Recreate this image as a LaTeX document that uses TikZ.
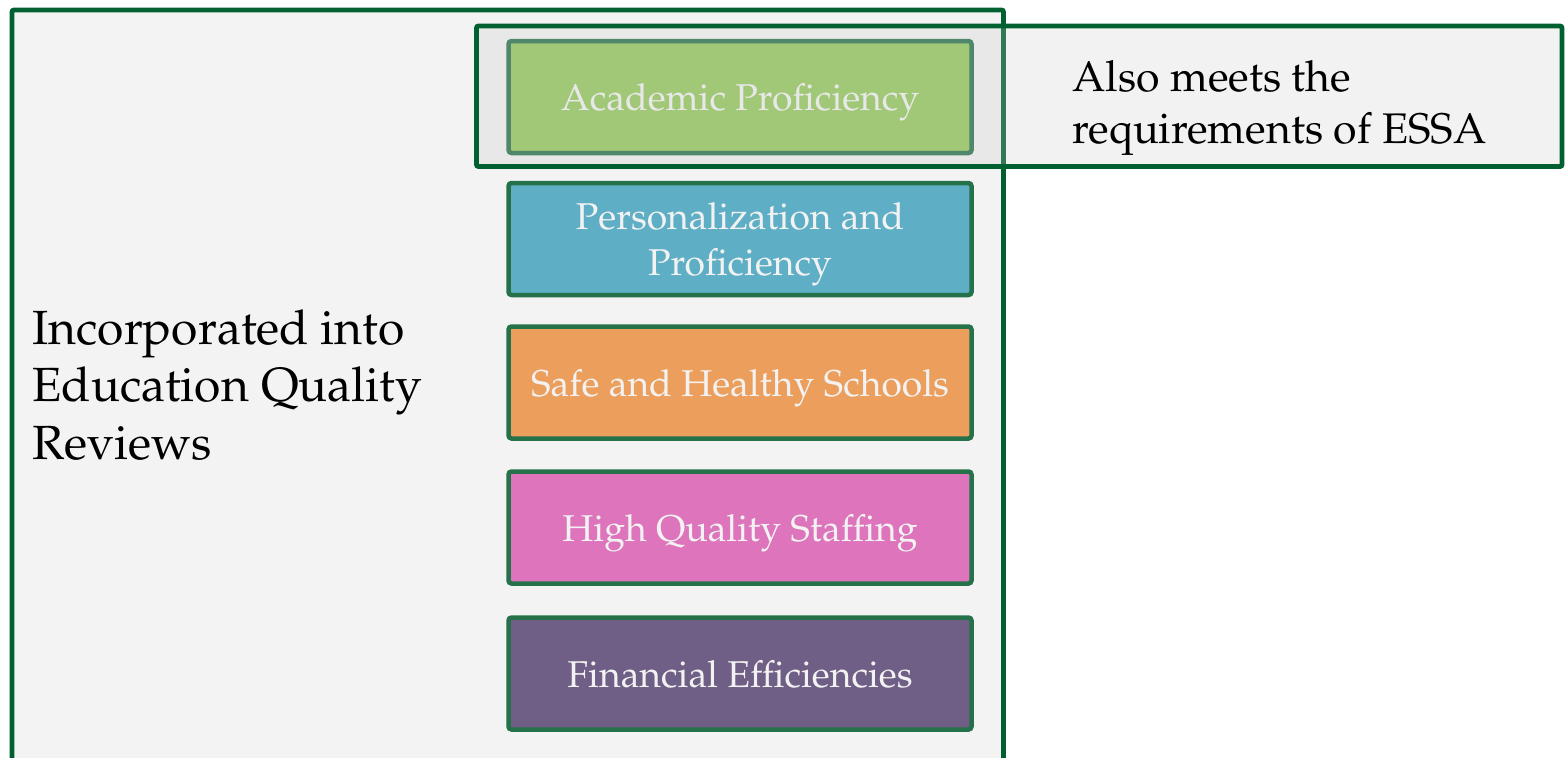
\documentclass[tikz,border=0pt]{standalone}
\usepackage[T1]{fontenc}
\usepackage{mathpazo}
\definecolor{EqrGreen}{HTML}{00602F}
\definecolor{BoxGreen}{HTML}{25714A}
\definecolor{PanelGray}{HTML}{F3F3F3}
\definecolor{VeilGray}{HTML}{CBCBCB}
\definecolor{BoxText}{HTML}{F2F2F2}
\definecolor{AcadGreen}{HTML}{93C75A}
\definecolor{PersBlue}{HTML}{5EAEC5}
\definecolor{SafeOrange}{HTML}{EC9E5C}
\definecolor{StaffPink}{HTML}{DD74BC}
\definecolor{FinPurple}{HTML}{6F5E85}

\begin{document}
\begin{tikzpicture}[x=0.5pt,y=-0.5pt,
  area/.style={draw=BoxGreen,line width=2.25pt,rounded corners=1.5pt,
    minimum width=231.5pt,minimum height=56pt,inner sep=0pt,text depth=0pt,
    text=BoxText,align=center,font=\fontsize{18.65}{23}\selectfont},
  frame/.style={draw=EqrGreen,line width=2.4pt,rounded corners=1pt}]
\useasboundingbox (0,0) rectangle (1566,757);
\clip (0,0) rectangle (1566,757);

% panel of the quality reviews, open at the bottom
\draw[frame,fill=PanelGray] (12,10) rectangle (1003.5,800);
\node[anchor=west,inner sep=0pt,align=left,font=\fontsize{24}{28.8}\selectfont] (eqr) at (32,385)
  {Incorporated into\\Education Quality\\Reviews};

% the five areas
\node[area,fill=AcadGreen] (acad) at (740,97) {Academic Proficiency};
\node[area,fill=PersBlue] (pers) at (740,239) {Personalization and\\Proficiency};
\node[area,fill=SafeOrange] (safe) at (740,382.5) {Safe and Healthy Schools};
\node[area,fill=StaffPink] (staff) at (740,527.5) {High Quality Staffing};
\node[area,fill=FinPurple] (fin) at (740,673.5) {Financial Efficiencies};

% ESSA band laid over the first area
\draw[frame,fill=VeilGray,fill opacity=.25] (476.5,26) rectangle (1562,166.5);
\node[anchor=west,inner sep=0pt,align=left,font=\fontsize{21.4}{26}\selectfont] (essa) at (1072,108)
  {Also meets the\\requirements of ESSA};
\end{tikzpicture}
\end{document}
